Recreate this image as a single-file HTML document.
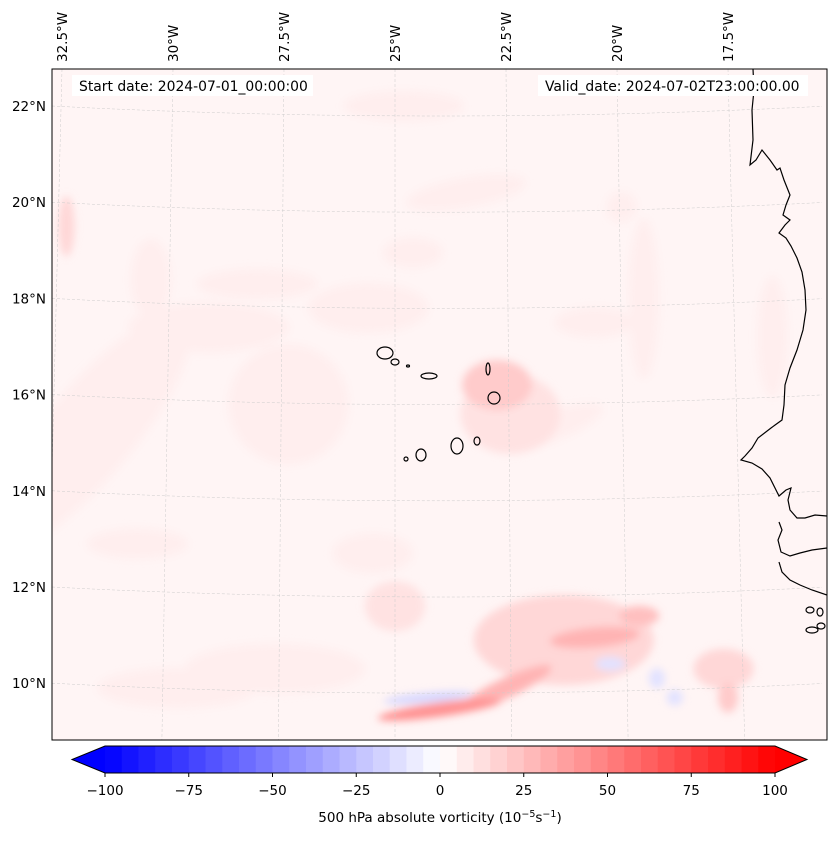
<!DOCTYPE html>
<html><head><meta charset="utf-8"><style>
html,body{margin:0;padding:0;background:#fff;}
body{width:837px;height:839px;overflow:hidden;font-family:"DejaVu Sans","Liberation Sans",sans-serif;}
svg text{font-family:"DejaVu Sans","Liberation Sans",sans-serif;}
</style></head><body>
<svg id="fig" width="837" height="839" viewBox="0 0 837 839" xmlns="http://www.w3.org/2000/svg">
<defs>
<clipPath id="mapclip"><rect x="52" y="69" width="775" height="671"/></clipPath>
<filter id="blur" x="-50%" y="-50%" width="200%" height="200%"><feGaussianBlur stdDeviation="4"/></filter>
</defs>
<g id="map">
<rect x="52" y="69" width="775" height="671" fill="#fff5f5"/>
<g id="field" clip-path="url(#mapclip)" filter="url(#blur)"></g>
<g id="grid" clip-path="url(#mapclip)"></g>
<g id="coast" clip-path="url(#mapclip)"></g>
<rect x="72" y="75" width="241" height="21" fill="#fff"/>
<text x="79" y="91" font-size="13.9" fill="#000">Start date: 2024-07-01_00:00:00</text>
<rect x="538" y="75" width="270" height="21" fill="#fff"/>
<text x="545" y="91" font-size="13.9" fill="#000">Valid_date: 2024-07-02T23:00:00.00</text>
<rect x="52" y="69" width="775" height="671" fill="none" stroke="#000" stroke-width="1"/>
</g>
<g id="labels"></g>
<g id="cbar"></g>
<text x="440" y="822" font-size="13.5" text-anchor="middle">500 hPa absolute vorticity (10<tspan font-size="9.5" dy="-5">−5</tspan><tspan dy="5">s</tspan><tspan font-size="9.5" dy="-5">−1</tspan><tspan dy="5">)</tspan></text>
</svg>
<script>
const NS='http://www.w3.org/2000/svg';
// data
const lonTicks=[-32.5,-30,-27.5,-25,-22.5,-20,-17.5];
const lonTickLabels=['32.5°W','30°W','27.5°W','25°W','22.5°W','20°W','17.5°W'];
const latTicks=[22,20,18,16,14,12,10];
const latTickLabels=['22°N','20°N','18°N','16°N','14°N','12°N','10°N'];
const cbarTicks=[-100,-75,-50,-25,0,25,50,75,100];
const cbarLevels=[];for(let v=-100;v<100;v+=5)cbarLevels.push(v);
// vorticity features: lon, lat, value (1e-5 s^-1)
const blobLon=[-24.0,-22.5,-21.2,-20.5,-20.15,-19.5,-24.25,-22.7,-22.4,-19.1,-18.7,-17.6,-17.5,
 -31.9,-30.5,-28.1,-29.2,-25.6,-27.4,-30.8,-27.7,-29.9,-25.5,-24.6,-23.4,-19.9,-19.4,-21.6,-24.8,-32.4,-20.5,-16.5,-25.0];
const blobLat=[9.45,9.9,10.9,10.95,10.4,11.4,9.7,16.2,15.6,10.1,9.7,10.3,9.7,
 15.2,18.4,18.3,17.4,17.8,15.8,12.9,10.3,9.9,12.7,18.95,20.2,19.9,18.0,15.3,22.0,19.5,17.5,17.2,11.6];
const blobVal=[45,30,15,30,-15,25,-20,20,10,-15,-12,15,20,
 8,8,8,8,8,8,8,8,8,8,8,8,8,8,8,8,15,8,8,10];
// sizes / orientation (styling)
const blobRx=[62,50,90,45,15,20,45,35,50,8,8,30,10,45,20,60,80,60,60,50,90,80,40,30,60,15,15,60,60,8,40,15,30];
const blobRy=[7,10,45,10,7,10,5,25,40,10,8,20,15,150,40,15,25,25,60,15,25,20,20,15,15,15,80,15,15,30,15,60,25];
const blobRot=[-8,-25,0,-5,0,0,-5,0,0,0,0,0,0,40,0,0,0,0,0,0,0,0,0,0,-10,0,0,-20,0,0,0,0,0];

const lonX=lon=>395+(lon+25)*44.4;
const latY=lat=>106+(22-lat)*48.1;
function bwr(v){let t=(v+100)/200;t=Math.max(0,Math.min(1,t));let r,g,b;
 if(t<0.5){r=g=2*t;b=1;}else{r=1;g=b=2-2*t;}
 return `rgb(${Math.round(r*255)},${Math.round(g*255)},${Math.round(b*255)})`;}
function q(v){const l=Math.floor(v/5)*5;return l+2.5;}
function el(tag,attrs,parent){const e=document.createElementNS(NS,tag);for(const k in attrs)e.setAttribute(k,attrs[k]);parent.appendChild(e);return e;}

const field=document.getElementById('field');
const order=blobVal.map((v,i)=>i).sort((a,b)=>Math.abs(blobVal[a])-Math.abs(blobVal[b]));
for(const i of order){
 const cx=lonX(blobLon[i]),cy=latY(blobLat[i]);
 const e=el('ellipse',{cx:cx,cy:cy,rx:blobRx[i],ry:blobRy[i],fill:bwr(q(blobVal[i])*0.9),transform:`rotate(${blobRot[i]} ${cx} ${cy})`},field);
 
 
}
// gridlines
const grid=document.getElementById('grid');
for(let i=0;i<lonTicks.length;i++){
 const xt=lonX(lonTicks[i]);const xb=xt+(xt-395)*0.05;
 const l=el('line',{x1:xt,y1:69,x2:xb,y2:740,stroke:'#ccc','stroke-width':0.5,'stroke-dasharray':'3,2'},grid);
 
 
}
for(let i=0;i<latTicks.length;i++){
 const y0=latY(latTicks[i]);let d='';
 for(let x=52;x<=827;x+=10){const y=y0+10-10*Math.pow((x-440)/388,2);d+=(x===52?'M':'L')+x+','+y.toFixed(1);}
 const p=el('path',{d:d,fill:'none',stroke:'#ccc','stroke-width':0.5,'stroke-dasharray':'3,2'},grid);
 
 
}
// coast (pixel outline)
const coast=document.getElementById('coast');
const seg1=[[753,69],[754,90],[752,110],[753,140],[750,165],[756,160],[762,150],[770,160],[777,170],[780,168],[784,180],[790,195],[786,205],[783,215],[790,220],[785,225],[779,233],[786,238],[791,246],[797,258],[802,272],[805,290],[806,310],[803,330],[797,350],[790,368],[785,385],[784,405],[782,420],[771,428],[758,438],[752,448],[745,456],[741,460],[752,463],[762,469],[770,478],[775,488],[779,496],[786,490],[791,488],[788,500],[790,510],[797,518],[805,518],[815,515],[827,516]];
const seg2=[[779,522],[782,530],[778,540],[781,552],[790,556],[800,553],[812,550],[827,548]];
const seg3=[[779,562],[782,572],[790,580],[800,585],[812,590],[827,595]];
for(const s of [seg1,seg2,seg3]){
 const pl=el('polyline',{points:s.map(p=>p.join(',')).join(' '),fill:'none',stroke:'#000','stroke-width':1.2},coast);
 
 
}
const islands=[[385,353,8,6],[395,362,4,3],[429,376,8,3],[488,369,2,6],[494,398,6,6],[457,446,6,8],[477,441,3,4],[421,455,5,6],[406,459,2,2],[408,366,1.5,1],[810,610,4,3],[820,612,3,4],[812,630,6,3],[821,626,4,3]];
for(const c of islands){
 const e=el('ellipse',{cx:c[0],cy:c[1],rx:c[2],ry:c[3],fill:'none',stroke:'#000','stroke-width':1.2},coast);
 
 
}
// labels
const labels=document.getElementById('labels');
for(let i=0;i<lonTicks.length;i++){
 const x=lonX(lonTicks[i])+5;
 const t=el('text',{x:0,y:0,'font-size':13.5,transform:`translate(${x},62) rotate(-90)`},labels);
 t.textContent=lonTickLabels[i];
 
 
}
for(let i=0;i<latTicks.length;i++){
 const t=el('text',{x:46,y:latY(latTicks[i])+5,'font-size':13.5,'text-anchor':'end'},labels);
 t.textContent=latTickLabels[i];
 
 
}
// colorbar
const cb=document.getElementById('cbar');
const cx=v=>440+v*3.35;const cy0=746,cy1=773;
for(const lv of cbarLevels){
 const r=el('rect',{x:cx(lv),y:cy0,width:cx(lv+5)-cx(lv)+0.5,height:cy1-cy0,fill:bwr(lv+2.5)},cb);
 
 
}
const lt=el('polygon',{points:`${cx(-100)},${cy0} 72,${(cy0+cy1)/2} ${cx(-100)},${cy1}`,fill:bwr(-100)},cb);


const rt=el('polygon',{points:`${cx(100)},${cy0} 807,${(cy0+cy1)/2} ${cx(100)},${cy1}`,fill:bwr(100)},cb);


const ol=el('polygon',{points:`${cx(-100)},${cy0} ${cx(100)},${cy0} 807,${(cy0+cy1)/2} ${cx(100)},${cy1} ${cx(-100)},${cy1} 72,${(cy0+cy1)/2}`,fill:'none',stroke:'#000','stroke-width':1},cb);


for(const v of cbarTicks){
 const tk=el('line',{x1:cx(v),y1:cy1,x2:cx(v),y2:cy1+4,stroke:'#000','stroke-width':1},cb);
 
 
 const t=el('text',{x:cx(v),y:795,'font-size':13.5,'text-anchor':'middle'},cb);
 t.textContent=(v<0?'−'+Math.abs(v):String(v));
 
 
}
</script>
</body></html>
